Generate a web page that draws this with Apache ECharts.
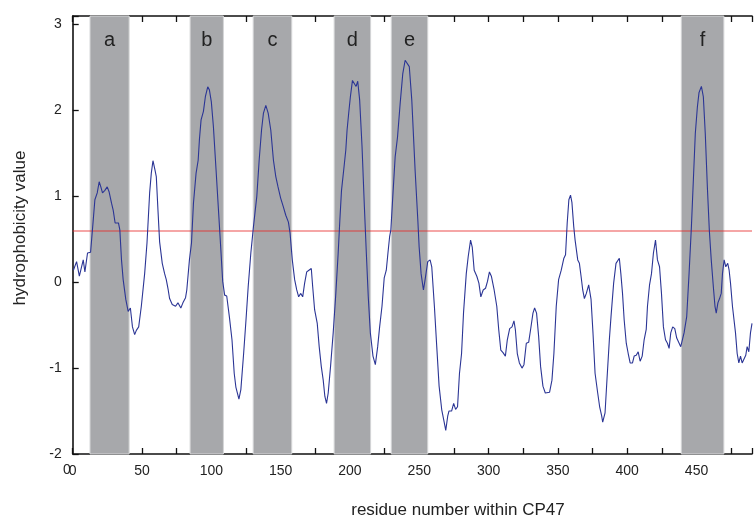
<!DOCTYPE html>
<html>
<head>
<meta charset="utf-8">
<script src="https://cdn.jsdelivr.net/npm/echarts@6/dist/echarts.min.js"></script>
<style>html,body{margin:0;padding:0;background:#fff}#c{width:755px;height:518px}</style>
</head>
<body>
<div id="c"></div>
<script>
// residue positions and hydrophobicity values
const residues = [0.5,2.8,4.8,7.6,8.8,10.7,12.9,14.8,16,17.7,19.1,20.3,21.5,23.2,24.9,26.3,28,29.2,30.6,33,34,35.2,36.4,38.3,40,41.6,43.1,44.7,45.9,47.6,49.5,51.9,53.6,55.5,56.7,57.9,59.3,60.3,61.5,62.7,64.6,66.3,67.5,68.9,69.9,71.8,74.2,75.9,77.1,78,79.5,81.4,82.3,84.2,85.7,87.1,89,90.5,91.4,92.6,94.3,95.7,97.4,98.6,100,101.5,103.4,105.3,107,108.2,109.6,111.1,113,114.9,116.5,117.7,119.9,121.3,123.3,125,126.6,128.5,130.4,132.8,134.5,136.2,137.6,139.3,141,142.9,144.8,146.5,148.1,150,151.9,153.7,155.6,156.8,158.4,160.1,161.6,163,164.4,165.9,167.3,168.8,170.4,172.1,173.1,174.5,176.4,177.8,179.3,180.7,181.9,183.1,184.3,186,187.9,189.8,191.5,192.7,193.9,195.5,197,197.9,199.1,200.3,201.8,203.2,204.4,205.6,207,208.7,210.4,211.8,213.2,214.7,216.6,218.3,220,221.4,223.1,224.7,226.2,227.4,228.6,229.5,230.9,232.6,234.3,236.2,238.1,239.8,241,242.8,244.6,247,248.9,249.9,251.3,253,254.2,256.1,257.8,259,260.9,262.6,264.3,266.2,267.6,269.1,270.5,271.4,273.3,274.8,276.2,277.6,279,280.5,281.9,283.9,285.3,287,288.2,289.6,291.5,293,294.4,296.1,297.8,299.2,300.6,302,304,305.9,307.3,308.8,310.4,312.1,313.5,315.2,316.9,318.3,319.3,320.7,322.2,324.1,325.5,327.2,328.9,330.3,332,333.2,334.6,336.1,337.5,339.2,340.9,342.3,344,345.7,347.1,348.8,350.5,352.4,354.3,355.5,356.7,357.9,359.1,360.1,361.4,362.4,364.3,365.5,366.7,367.9,369.1,370.5,372.2,373.9,375.3,376.8,378.7,380.1,381.6,382.3,384,385.4,387.1,388.3,390.2,391.9,393.1,394.3,395.4,396.6,397.8,399.3,400.7,402.1,403.8,405,406.5,407.9,409.3,410.8,412.2,413.7,414.6,416.1,417.5,418.9,420.4,421.8,423.3,424.7,426.1,427.6,429,430.2,431.4,432.8,434.3,435.7,437.1,438.6,439.8,441,442.9,444.6,446.3,447.7,449.1,450.6,451.8,453.5,454.9,456.3,457.8,459.2,460.6,462.1,463.3,464.2,465.4,466.6,467.8,468.7,469.9,471.1,472.5,473.5,474.5,475.9,476.9,478.1,479.3,480.5,481.7,482.9,484.1,485.5,486.5,487.7,488.9,490];
const hydrophobicity = [0.14,0.24,0.07,0.26,0.12,0.34,0.35,0.72,0.96,1.04,1.17,1.11,1.04,1.07,1.11,1.05,0.92,0.84,0.69,0.69,0.61,0.26,0.03,-0.2,-0.34,-0.3,-0.52,-0.61,-0.56,-0.52,-0.28,0.1,0.46,1.04,1.27,1.415,1.31,1.23,0.84,0.47,0.22,0.1,0.03,-0.09,-0.19,-0.26,-0.28,-0.24,-0.24,-0.3,-0.24,-0.18,-0.09,0.26,0.46,0.92,1.27,1.42,1.66,1.89,1.99,2.16,2.275,2.24,2.1,1.81,1.31,0.8,0.34,0.01,-0.15,-0.16,-0.4,-0.67,-1.06,-1.22,-1.36,-1.25,-0.83,-0.44,-0.05,0.34,0.65,1.0,1.42,1.77,1.97,2.06,1.97,1.77,1.42,1.23,1.11,0.98,0.88,0.78,0.7,0.57,0.26,0.03,-0.09,-0.17,-0.13,-0.17,-0.01,0.12,0.14,0.16,-0.05,-0.32,-0.48,-0.75,-0.98,-1.14,-1.33,-1.41,-1.29,-0.98,-0.59,-0.13,0.34,0.72,1.07,1.31,1.54,1.77,1.97,2.16,2.35,2.33,2.28,2.34,2.12,1.58,0.88,0.34,-0.17,-0.59,-0.86,-0.96,-0.75,-0.52,-0.28,0.05,0.14,0.34,0.53,0.61,1.0,1.46,1.69,2.08,2.43,2.585,2.6,2.51,2.12,1.3,0.74,0.41,0.1,-0.09,0.03,0.24,0.26,0.18,-0.28,-0.75,-1.21,-1.485,-1.6,-1.725,-1.56,-1.5,-1.5,-1.41,-1.48,-1.45,-1.06,-0.83,-0.36,0.1,0.3,0.49,0.41,0.14,0.07,-0.01,-0.17,-0.09,-0.07,0.01,0.12,0.07,-0.09,-0.28,-0.55,-0.79,-0.82,-0.86,-0.67,-0.54,-0.52,-0.45,-0.55,-0.83,-0.94,-1.0,-0.96,-0.71,-0.7,-0.55,-0.36,-0.3,-0.36,-0.63,-0.98,-1.21,-1.29,-1.27,-1.28,-1.14,-0.83,-0.28,0.03,0.14,0.28,0.32,0.69,0.96,1.015,0.93,0.65,0.49,0.26,0.22,0.07,-0.09,-0.19,-0.13,-0.03,-0.2,-0.59,-1.06,-1.29,-1.45,-1.56,-1.63,-1.52,-1.13,-0.67,-0.4,-0.01,0.22,0.24,0.28,0.1,-0.13,-0.44,-0.71,-0.83,-0.94,-0.94,-0.86,-0.85,-0.81,-0.92,-0.86,-0.67,-0.55,-0.28,-0.03,0.1,0.34,0.49,0.26,0.18,-0.13,-0.52,-0.67,-0.71,-0.77,-0.59,-0.52,-0.54,-0.65,-0.67,-0.75,-0.76,-0.59,-0.4,0.1,0.65,1.19,1.73,2.04,2.21,2.28,2.16,1.73,1.11,0.61,0.26,-0.05,-0.28,-0.36,-0.24,-0.19,-0.13,0.1,0.26,0.18,0.22,0.14,-0.01,-0.28,-0.3,-0.59,-0.83,-0.94,-0.86,-0.94,-0.94,-0.85,-0.75,-0.81,-0.59,-0.48];
// transmembrane helix bands
const bandLabels = ['a','b','c','d','e','f'];
const bandStarts = [12.5, 84.7, 130.2, 188.6, 229.8, 439];
const bandEnds   = [40.7, 108.7, 158, 214.9, 256.1, 469.7];
const threshold = 0.6;
const xTicks = [0, 490, 25];   // min, max, interval
const yTicks = [-2, 3.1, 1];

const chart = echarts.init(document.getElementById('c'), null, {renderer:'canvas'});
const font = 'Liberation Sans, Arial, sans-serif';
const txt = '#222';
const axisLineStyle = {color:'#111', width:1.6};

const lineData = residues.map((r,i)=>[r, hydrophobicity[i]]);
const areaData = bandLabels.map((l,i)=>[{name:l, xAxis:bandStarts[i]},{xAxis:bandEnds[i]}]);

chart.setOption({
  animation:false,
  backgroundColor:'#fff',
  grid:{left:72.7, right:0, top:16, bottom:64, containLabel:false},
  xAxis:[{
    type:'value', min:xTicks[0], max:xTicks[1], interval:xTicks[2], position:'bottom',
    axisLine:{show:true, onZero:false, lineStyle:axisLineStyle},
    axisTick:{show:true, inside:true, length:6, lineStyle:{color:'#111', width:1.3}},
    axisLabel:{show:true, fontFamily:font, fontSize:14, color:txt, margin:10,
      formatter:v=> (v%50===0 ? String(v) : '')},
    splitLine:{show:false}
  },{
    type:'value', min:xTicks[0], max:xTicks[1], interval:xTicks[2], position:'top',
    axisLine:{show:true, onZero:false, lineStyle:axisLineStyle},
    axisTick:{show:true, inside:true, length:6, lineStyle:{color:'#111', width:1.3}},
    axisLabel:{show:false}, splitLine:{show:false}
  }],
  yAxis:{
    type:'value', min:yTicks[0], max:yTicks[1], interval:yTicks[2],
    axisLine:{show:true, onZero:false, lineStyle:axisLineStyle},
    axisTick:{show:true, inside:true, length:6, lineStyle:{color:'#111', width:1.3}},
    axisLabel:{fontFamily:font, fontSize:14, color:txt, margin:11,
      formatter:v=> (Number.isInteger(v) ? String(v) : '')},
    splitLine:{show:false}
  },
  series:[{
    type:'line', xAxisIndex:0, data:lineData, showSymbol:false, symbol:'none',
    lineStyle:{color:'#2b3595', width:1.1}, z:5,
    markArea:{
      silent:true,
      itemStyle:{color:'#a7a8ab', borderColor:'#d4d5d7', borderWidth:1},
      label:{show:true, position:'insideTop', distance:15, fontFamily:font, fontSize:20, color:txt},
      data:areaData
    },
    markLine:{
      silent:true, symbol:['none','none'], label:{show:false},
      lineStyle:{color:'rgba(232,40,40,0.55)', width:1.6, type:'solid'},
      data:[{yAxis:threshold}]
    }
  }],
  graphic:[
    {type:'text', left:63, top:463, style:{text:'0', font:'14px '+font, fill:txt}},
    {type:'text', x:458, y:510, style:{text:'residue number within CP47', font:'17px '+font, fill:txt, textAlign:'center', textVerticalAlign:'middle'}},
    {type:'text', x:20, y:228, rotation:Math.PI/2, style:{text:'hydrophobicity value', font:'17px '+font, fill:txt, textAlign:'center', textVerticalAlign:'middle'}}
  ]
});
</script>
</body>
</html>
